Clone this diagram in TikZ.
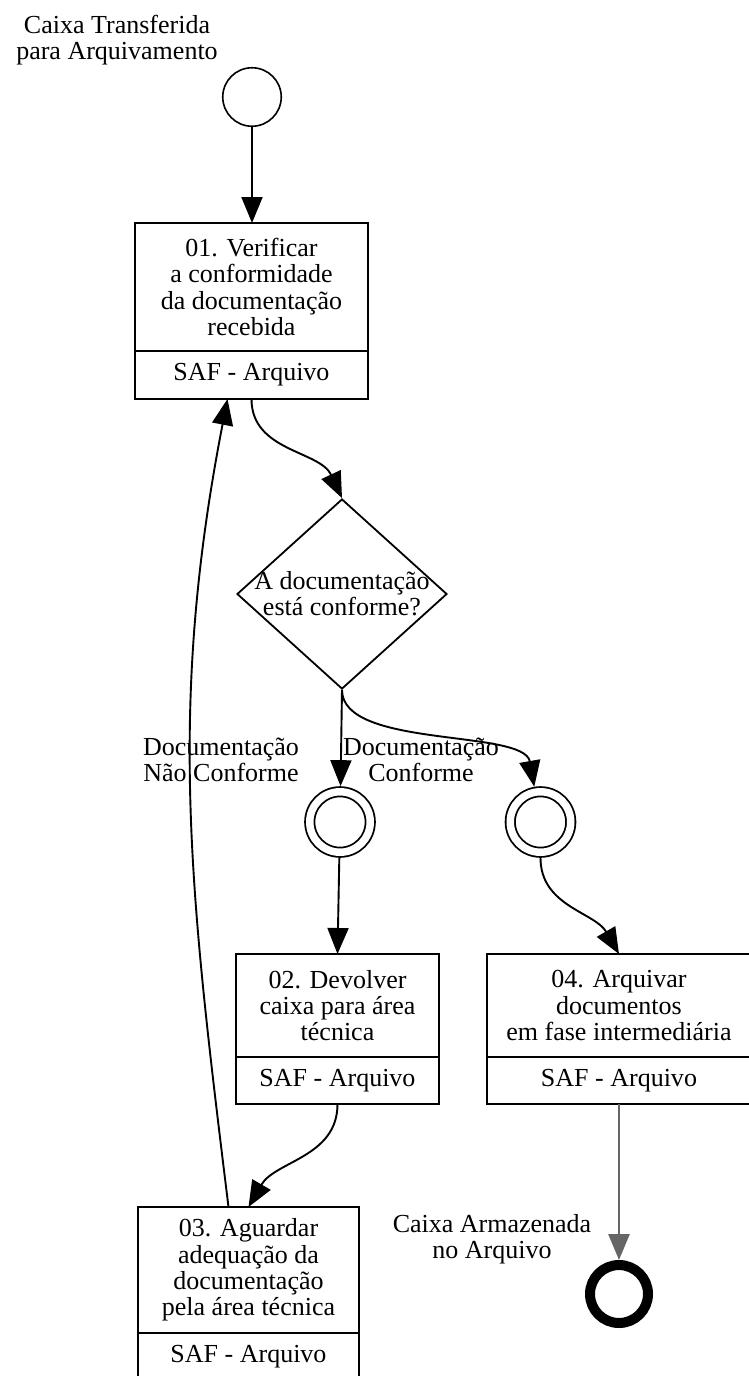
\documentclass[tikz,border=0pt]{standalone}
\usepackage{fontspec}
\setmainfont{Liberation Serif}
\usetikzlibrary{positioning,shapes.geometric,arrows.meta}
\begin{document}
\begin{tikzpicture}[x=1pt, y=1pt,
	every node/.style = {align=center, font=\fontsize{26}{26.3}\selectfont},
	task/.style = {draw, rectangle, line width=2pt, inner sep=0pt, outer sep=0pt},
	role/.style = {task, below=0pt of #1},
	startev/.style = {circle, draw, line width=1.6pt, minimum size=58.5pt, inner sep=0pt},
	midev/.style = {circle, draw, line width=1.8pt, double, double distance=7.5pt, minimum size=60.5pt, inner sep=0pt, outer sep=5.6pt},
	endev/.style = {circle, draw, line width=10pt, minimum size=58pt, inner sep=0pt},
	gate/.style = {diamond, draw, line width=1.8pt, minimum width=210pt, minimum height=190pt, inner sep=0pt},
	flow/.style = {-{Triangle[length=26pt,width=21pt]}, line width=1.9pt},
	endflow/.style = {flow, draw=black!60, line width=2.8pt}]
	
	\useasboundingbox (0,0) rectangle (748,-1376);
	
	\node (startlbl) at (117,-40) {Caixa Transferida\\para Arquivamento};
	\node[startev] (start) at (252,-97) {};
	
	\node[task, minimum width=233pt, minimum height=128pt] (t1) at (251.5,-287)
		{01. Verificar\\a conformidade\\da documentação\\recebida};
	\node[role=t1, minimum width=233pt, minimum height=48pt] (t1r) {SAF - Arquivo};
	
	\node[gate, label={center:{A documentação\\está conforme?}}] (dec) at (342,-594) {};
	
	\node (nolbl) at (221,-760) {Documentação\\Não Conforme};
	\node (oklbl) at (421,-760) {Documentação\\Conforme};
	
	\node[midev] (cA) at (340,-822) {};
	\node[midev] (cB) at (540.5,-822) {};
	
	\node[task, minimum width=203pt, minimum height=103pt] (t2) at (337.5,-1005.5)
		{02. Devolver\\caixa para área\\técnica};
	\node[role=t2, minimum width=203pt, minimum height=47pt] (t2r) {SAF - Arquivo};
	
	\node[task, minimum width=264pt, minimum height=103pt] (t4) at (619,-1005.5)
		{04. Arquivar\\documentos\\em fase intermediária};
	\node[role=t4, minimum width=264pt, minimum height=47pt] (t4r) {SAF - Arquivo};
	
	\node[task, minimum width=221pt, minimum height=126pt] (t3) at (248.5,-1270)
		{03. Aguardar\\adequação da\\documentação\\pela área técnica};
	\node[role=t3, minimum width=221pt, minimum height=48pt] (t3r) {SAF - Arquivo};
	
	\node (endlbl) at (492,-1239) {Caixa Armazenada\\no Arquivo};
	\node[endev] (finish) at (619,-1294) {};
	
	\draw[flow] (start) -- (start |- t1.north);
	\draw[flow] (t1r.south) to[out=-90, in=115] (dec.north);
	\draw[flow] (dec.south) -- (cA);
	\draw[flow] (dec.south) to[out=-90, in=100, looseness=0.7] (cB);
	\draw[flow] (cA) -- (t2.north);
	\draw[flow] (cB) to[out=-90, in=120] (t4.north);
	\draw[flow] (t2r.south) to[out=-90, in=60] (t3.north);
	\draw[flow] ([xshift=-20pt]t3.north) to[out=97, in=-101] ([xshift=-24pt]t1r.south);
	\draw[endflow] (t4r) -- (finish);
\end{tikzpicture}
\end{document}
